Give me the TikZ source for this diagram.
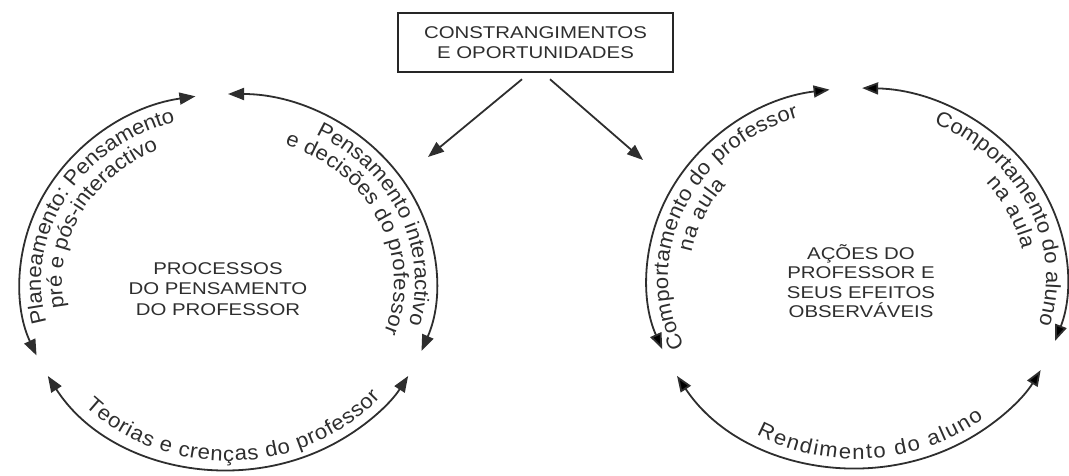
\documentclass[tikz,border=0pt]{standalone}
\usepackage{fontspec}
\setmainfont{Liberation Sans}
\newfontfamily\wideFont[FakeStretch=1.2]{Liberation Sans}
\newfontfamily\arcFont[FakeStretch=1.05]{Liberation Sans}
\usetikzlibrary{arrows.meta,decorations.text,calc}
\definecolor{ink}{HTML}{2E2E2E}
\newcommand{\arcsize}{\arcFont\fontsize{21}{23}\selectfont}
\begin{document}
\begin{tikzpicture}[x=1pt,y=1pt,
  conn/.style={draw=ink, line width=1.8pt, {Triangle[length=16pt,width=12pt]}-{Triangle[length=16pt,width=12pt]}},
  oneway/.style={draw=ink, line width=1.8pt, -{Triangle[length=16pt,width=12pt]}},
  centerlabel/.style={text=ink, align=center, font=\wideFont\fontsize{17}{20.5}\selectfont},
  boxnode/.style={draw=black!85, line width=2.5pt, minimum width=275pt, minimum height=59pt, inner sep=0pt, text=ink, align=center, font=\wideFont\fontsize{17}{20}\selectfont},
  arctext/.style={decorate, decoration={text along path, text align=fit to path, text color=ink}}
]
\useasboundingbox (0,0) rectangle (1069,475);

% top box and its arrows
\node[boxnode] (box) at (535.5,432.5) {CONSTRANGIMENTOS\\E OPORTUNIDADES};
\coordinate (t1) at (428,318);
\coordinate (t2) at (643,315);
\draw[oneway] ([xshift=-13.5pt,yshift=-6pt]box.south) -- (t1);
\draw[oneway] ([xshift=14.5pt,yshift=-6pt]box.south) -- (t2);

% left cycle
\coordinate (Lc) at (228,193);
\node[centerlabel] (lcl) at (218,186) {PROCESSOS\\DO PENSAMENTO\\DO PROFESSOR};
\coordinate (La) at ($(Lc)+(99:208 and 188)$);
\coordinate (Lb) at ($(Lc)+(90:208 and 188)$);
\coordinate (Ld) at ($(Lc)+(210:208 and 188)$);
\draw[conn] (La) arc[start angle=99, end angle=203, x radius=208, y radius=188];
\draw[conn] (Lb) arc[start angle=90, end angle=-21.5, x radius=208, y radius=188];
\draw[conn] (Ld) arc[start angle=210, end angle=330, x radius=208, y radius=188];

\path[arctext, decoration={text={|\arcsize|Planeamento: Pensamento}}]
  ($(Lc)+(194:187 and 167)$) arc[start angle=194, end angle=108, x radius=187, y radius=167];
\path[arctext, decoration={text={|\arcsize|pré e pós-interactivo}}]
  ($(Lc)+(190:166 and 146)$) arc[start angle=190, end angle=115, x radius=166, y radius=146];
\path[arctext, decoration={text={|\arcsize|Pensamento interactivo}}]
  ($(Lc)+(62:187 and 167)$) arc[start angle=62, end angle=-14, x radius=187, y radius=167];
\path[arctext, decoration={text={|\arcsize|e decisões do professor}}]
  ($(Lc)+(70:166 and 146)$) arc[start angle=70, end angle=-20, x radius=166, y radius=146];
\path[arctext, decoration={text={|\arcsize|Teorias e crenças do professor}}]
  ($(Lc)+(224:199 and 179)$) arc[start angle=224, end angle=320, x radius=199, y radius=179];

% right cycle
\coordinate (Rc) at (857,197);
\node[centerlabel, font=\wideFont\fontsize{17}{19.5}\selectfont] (rcl) at (861,194) {AÇÕES DO\\PROFESSOR E\\SEUS EFEITOS\\OBSERVÁVEIS};
\coordinate (Ra) at ($(Rc)+(97.5:210 and 190)$);
\coordinate (Rb) at ($(Rc)+(88.6:210 and 190)$);
\coordinate (Rd) at ($(Rc)+(211:210 and 190)$);
\draw[conn] (Ra) arc[start angle=97.5, end angle=202, x radius=210, y radius=190];
\draw[conn] (Rb) arc[start angle=88.6, end angle=-19.3, x radius=210, y radius=190];
\draw[conn] (Rd) arc[start angle=211, end angle=331, x radius=210, y radius=190];

\path[arctext, decoration={text={|\arcsize|Comportamento do professor}}]
  ($(Rc)+(204:189 and 169)$) arc[start angle=204, end angle=108, x radius=189, y radius=169];
\path[arctext, decoration={text={|\arcsize|na aula}}]
  ($(Rc)+(170:168 and 148)$) arc[start angle=170, end angle=141, x radius=168, y radius=148];
\path[arctext, decoration={text={|\arcsize|Comportamento do aluno}}]
  ($(Rc)+(66:189 and 169)$) arc[start angle=66, end angle=-16, x radius=189, y radius=169];
\path[arctext, decoration={text={|\arcsize|na aula}}]
  ($(Rc)+(40:168 and 148)$) arc[start angle=40, end angle=11, x radius=168, y radius=148];
\path[arctext, decoration={text={|\arcsize|Rendimento do aluno}}]
  ($(Rc)+(240:201 and 181)$) arc[start angle=240, end angle=309, x radius=201, y radius=181];
\end{tikzpicture}
\end{document}
